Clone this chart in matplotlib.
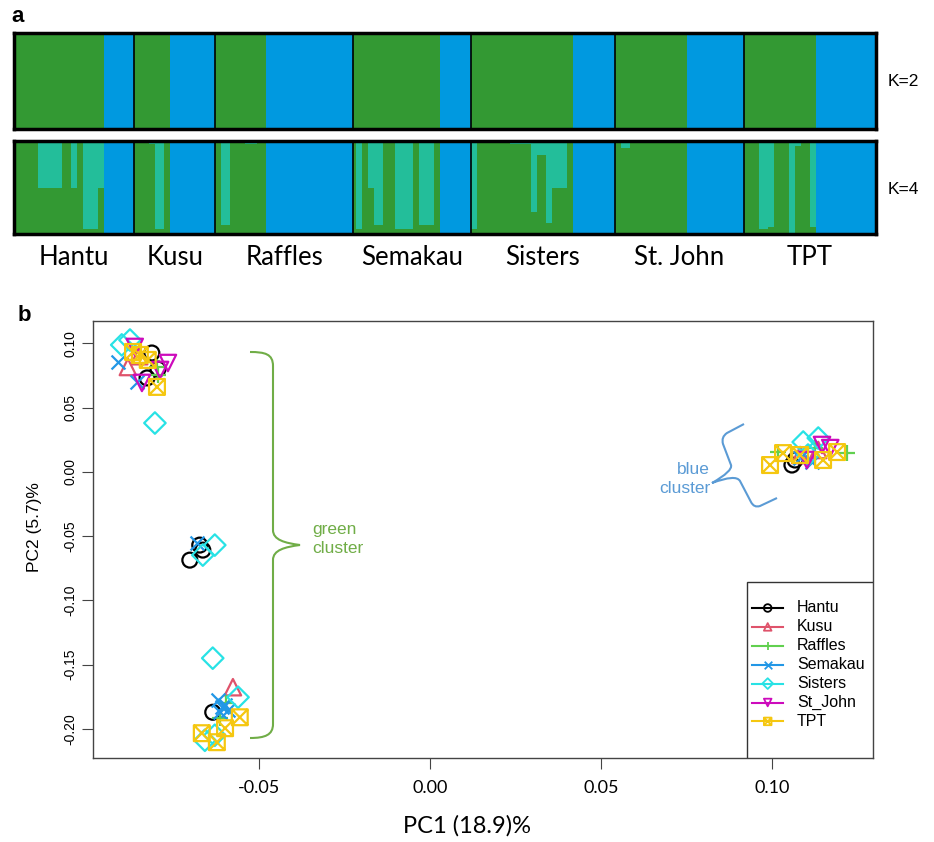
import matplotlib
matplotlib.use('Agg')
import matplotlib.pyplot as plt
from matplotlib.path import Path
from matplotlib.patches import PathPatch, Rectangle
from matplotlib.transforms import Affine2D, blended_transform_factory
import numpy as np

plt.rcParams['font.family'] = ['Liberation Sans', 'DejaVu Sans']

# ---- panel a: admixture bars ----
pops = ['Hantu', 'Kusu', 'Raffles', 'Semakau', 'Sisters', 'St. John', 'TPT']
n_green = [30, 12, 17, 29, 34, 24, 24]   # individuals assigned to green (K=2)
n_blue = [10, 15, 29, 10, 14, 19, 20]    # individuals assigned to blue (K=2)

# K=4: fraction of the teal cluster in each green individual
teal_hantu = [0, 0, 0, 0, 0, 0, 0, 0, 0.5, 0.5, 0.5, 0.5, 0.5, 0.5, 0.5, 0.5,
              0, 0, 0, 0.5, 0.5, 0, 0, 0.95, 0.95, 0.95, 0.95, 0.95, 0.5, 0.5]
teal_kusu = [0, 0, 0, 0, 0, 0.03, 0.03, 0.95, 0.95, 0.95, 0, 0]
teal_raffles = [0, 0, 0.9, 0.9, 0.9, 0, 0, 0, 0, 0, 0.03, 0.03, 0.03, 0.03, 0, 0, 0]
teal_semakau = [0, 0.95, 0.95, 0, 0, 0.5, 0.5, 0.9, 0.9, 0.9, 0, 0, 0, 0,
                0.95, 0.95, 0.95, 0.95, 0.95, 0.95, 0, 0, 0.9, 0.9, 0.9, 0.9, 0.9, 0, 0]
teal_sisters = [0.95, 0.95, 0, 0, 0, 0, 0, 0, 0, 0, 0, 0, 0, 0.03, 0.03, 0.03, 0.03,
                0.03, 0.03, 0.03, 0.76, 0.76, 0.15, 0.15, 0.15, 0.88, 0.88,
                0.5, 0.5, 0.5, 0.5, 0.5, 0, 0]
teal_stjohn = [0, 0, 0.08, 0.08, 0.08, 0, 0, 0, 0, 0, 0, 0, 0, 0, 0, 0, 0, 0, 0, 0, 0, 0, 0, 0]
teal_tpt = [0, 0, 0, 0, 0, 0.95, 0.95, 0.95, 0.93, 0.93, 0, 0, 0, 0, 0,
            1.0, 1.0, 0.05, 0.05, 0, 0, 0, 0.93, 0.93]
teal_all = [teal_hantu, teal_kusu, teal_raffles, teal_semakau, teal_sisters, teal_stjohn, teal_tpt]

# ---- panel b: PCA ----
groups = ['Hantu', 'Kusu', 'Raffles', 'Semakau', 'Sisters', 'St_John', 'TPT']
hantu_x = [-0.0813, -0.0827, -0.0795, -0.0702, -0.0673, -0.0664, -0.0635, 0.1058, 0.1067]
hantu_y = [0.0925, 0.0731, 0.0800, -0.0687, -0.0570, -0.0609, -0.1871, 0.0053, 0.0092]
kusu_x = [-0.0883, -0.0850, -0.0576, 0.1082, 0.1135]
kusu_y = [0.0816, 0.0900, -0.1676, 0.0131, 0.0170]
raffles_x = [-0.0798, -0.0795, -0.0596, -0.0614, 0.1018, 0.1219, 0.1126]
raffles_y = [0.0816, 0.0754, -0.1801, -0.1917, 0.0154, 0.0146, 0.0185]
semakau_x = [-0.0912, -0.0857, -0.0681, -0.0608, -0.0599, -0.0591, -0.0614, -0.0620, 0.1082, 0.1117]
semakau_y = [0.0855, 0.0700, -0.0555, -0.1832, -0.1816, -0.1855, -0.1871, -0.1777, 0.0107, 0.0076]
sisters_x = [-0.0901, -0.0877, -0.0804, -0.0629, -0.0664, -0.0635, -0.0561, -0.0658, -0.0629,
             0.1091, 0.1135, 0.1105]
sisters_y = [0.0988, 0.1026, 0.0380, -0.0570, -0.0648, -0.1450, -0.1754, -0.2089, -0.2050,
             0.0232, 0.0263, 0.0131]
stjohn_x = [-0.0766, -0.0842, -0.0789, -0.0863, 0.1146, 0.1102, 0.1170]
stjohn_y = [0.0847, 0.0692, 0.0793, 0.0972, 0.0209, 0.0092, 0.0185]
tpt_x = [-0.0868, -0.0848, -0.0825, -0.0798, -0.0556, -0.0599, -0.0667, -0.0623,
         0.0994, 0.1032, 0.1149, 0.1190, 0.1082]
tpt_y = [0.0933, 0.0910, 0.0871, 0.0661, -0.1910, -0.1995, -0.2034, -0.2104,
         0.0053, 0.0146, 0.0092, 0.0154, 0.0131]
xs = [hantu_x, kusu_x, raffles_x, semakau_x, sisters_x, stjohn_x, tpt_x]
ys = [hantu_y, kusu_y, raffles_y, semakau_y, sisters_y, stjohn_y, tpt_y]

GREEN, BLUE, TEAL = '#339933', '#0099E0', '#23BE9A'
pal = ['black', '#DF536B', '#61D04F', '#2297E6', '#28E2E5', '#CD0BBC', '#F5C710']

# square with a cross (R pch 7)
sqx = Path([(-1, -1), (1, -1), (1, 1), (-1, 1), (-1, -1), (-1, -1), (1, 1), (-1, 1), (1, -1)],
           [1, 2, 2, 2, 79, 1, 2, 1, 2])
marks = ['o', '^', '+', 'x', 'D', 'v', sqx]
sizes = [115, 140, 130, 100, 120, 140, 130]
hollow = [True, True, False, False, True, True, True]

W, H = 934, 842
fig = plt.figure(figsize=(W / 100, H / 100), dpi=100)
pix = Affine2D().scale(1 / W, -1 / H).translate(0, 1) + fig.transFigure

# per-individual membership
g2, b2, g4, t4, b4 = [], [], [], [], []
for i in range(len(pops)):
    for t in teal_all[i]:
        g2.append(1); b2.append(0)
        g4.append(1 - t); t4.append(t); b4.append(0)
    for j in range(n_blue[i]):
        g2.append(0); b2.append(1)
        g4.append(0); t4.append(0); b4.append(1)
N = len(g2)
xi = np.arange(N)
bounds = np.cumsum(np.array(n_green) + np.array(n_blue))
starts = bounds - (np.array(n_green) + np.array(n_blue))

ax2 = fig.add_axes([14 / W, 1 - 129 / H, 862 / W, 96 / H])
ax4 = fig.add_axes([14 / W, 1 - 234 / H, 862 / W, 93 / H])
ax2.bar(xi, g2, width=1, align='edge', color=GREEN, linewidth=0, antialiased=False)
ax2.bar(xi, b2, width=1, align='edge', bottom=g2, color=BLUE, linewidth=0, antialiased=False)
ax4.bar(xi, g4, width=1, align='edge', color=GREEN, linewidth=0, antialiased=False)
ax4.bar(xi, t4, width=1, align='edge', bottom=g4, color=TEAL, linewidth=0, antialiased=False)
ax4.bar(xi, b4, width=1, align='edge', bottom=np.array(g4) + np.array(t4), color=BLUE,
        linewidth=0, antialiased=False)
for a in (ax2, ax4):
    a.set_xlim(0, N)
    a.set_ylim(0, 1)
    a.set_xticks([])
    a.set_yticks([])
    for b in bounds[:-1]:
        a.axvline(b, color='black', lw=1.2)
    for s in a.spines.values():
        s.set_linewidth(2.5)
        s.set_color('black')

tr = blended_transform_factory(ax4.transData, ax4.transAxes)
for i, p in enumerate(pops):
    ax4.text((starts[i] + bounds[i]) / 2, -0.25, p, transform=tr, ha='center', va='center',
             fontsize=18.5, family='Lato')

fig.text(888 / W, 1 - 82 / H, 'K=2', ha='left', va='center', fontsize=12.5)
fig.text(888 / W, 1 - 190 / H, 'K=4', ha='left', va='center', fontsize=12.5)
fig.text(18 / W, 1 - 17 / H, 'a', ha='center', va='center', fontsize=16, fontweight='bold')
fig.text(24 / W, 1 - 316 / H, 'b', ha='center', va='center', fontsize=16, fontweight='bold')

# ---- PCA scatter ----
ax = fig.add_axes([93 / W, 1 - 758 / H, 780 / W, 437 / H])
for i in range(len(groups)):
    if hollow[i]:
        ax.scatter(xs[i], ys[i], s=sizes[i], marker=marks[i], facecolors='none',
                   edgecolors=pal[i], linewidths=1.6)
    else:
        ax.scatter(xs[i], ys[i], s=sizes[i], marker=marks[i], c=pal[i], linewidths=1.6)
ax.set_xlim(-0.0985, 0.1295)
ax.set_ylim(-0.2227, 0.1174)
ax.set_xticks([-0.05, 0.0, 0.05, 0.10])
ax.set_xticklabels(['-0.05', '0.00', '0.05', '0.10'], family='Lato', fontsize=13)
ax.set_yticks([-0.20, -0.15, -0.10, -0.05, 0.0, 0.05, 0.10])
ax.set_yticklabels(['-0.20', '-0.15', '-0.10', '-0.05', '0.00', '0.05', '0.10'],
                   fontsize=10, rotation=90, va='center')
ax.tick_params(axis='x', direction='out', length=8, width=0.8, color='#444444', pad=8)
ax.tick_params(axis='y', direction='out', length=8, width=0.8, color='#444444', pad=3)
for s in ax.spines.values():
    s.set_linewidth(1.0)
    s.set_color('#444444')

fig.text(467 / W, 1 - 826 / H, 'PC1 (18.9)%', ha='center', va='center', fontsize=17, family='Lato')
fig.text(35 / W, 1 - 527 / H, 'PC2 (5.7)%', ha='center', va='center', fontsize=12.5, rotation=90)

# legend drawn R-style: box flush to the bottom-right corner
ax.add_patch(Rectangle((0.8385, 0), 1 - 0.8385, 0.4027, transform=ax.transAxes,
                       facecolor='white', edgecolor='#333333', lw=1.0, zorder=5))
for i, g in enumerate(groups):
    yy = (758 - (608 + i * 18.9)) / 437
    ax.plot([0.845, 0.8846], [yy, yy], color=pal[i], lw=1.5, transform=ax.transAxes,
            zorder=6, clip_on=False)
    if hollow[i]:
        ax.scatter([0.865], [yy], s=30, marker=marks[i], facecolors='none', edgecolors=pal[i],
                   linewidths=1.3, transform=ax.transAxes, zorder=7)
    else:
        ax.scatter([0.865], [yy], s=30, marker=marks[i], c=pal[i], linewidths=1.3,
                   transform=ax.transAxes, zorder=7)
    ax.text(0.9026, yy, g, transform=ax.transAxes, ha='left', va='center', fontsize=11.5, zorder=7)

# braces and cluster notes
C4, C3, L2, M = Path.CURVE4, Path.CURVE3, Path.LINETO, Path.MOVETO
green_brace = Path([(250, 352), (265, 352), (273, 354), (273, 366), (273, 530),
                    (273, 540), (285, 543), (300, 545),
                    (285, 547), (273, 550), (273, 560), (273, 724),
                    (273, 735), (265, 738), (250, 738)],
                   [M, C4, C4, C4, L2, C4, C4, C4, C4, C4, C4, L2, C4, C4, C4])
blue_brace = Path([(744, 424), (727, 433), (721, 437), (723, 444), (731, 465),
                   (733, 471), (712, 483), (736, 474), (740, 481), (751, 502),
                   (754, 508), (760, 506), (777, 498)],
                  [M, L2, C3, C3, L2, C3, C3, C3, C3, L2, C3, C3, L2])
fig.add_artist(PathPatch(green_brace, transform=pix, fill=False, ec='#70AD47', lw=1.5))
fig.add_artist(PathPatch(blue_brace, transform=pix, fill=False, ec='#5B9BD5', lw=1.5))
fig.text(312 / W, 1 - 539 / H, 'green\ncluster', ha='left', va='center', fontsize=12.5,
         color='#70AD47', linespacing=1.3)
fig.text(710 / W, 1 - 479 / H, 'blue\ncluster', ha='right', va='center', fontsize=12.5,
         color='#5B9BD5', linespacing=1.3)

fig.savefig('out.png', dpi=100)
